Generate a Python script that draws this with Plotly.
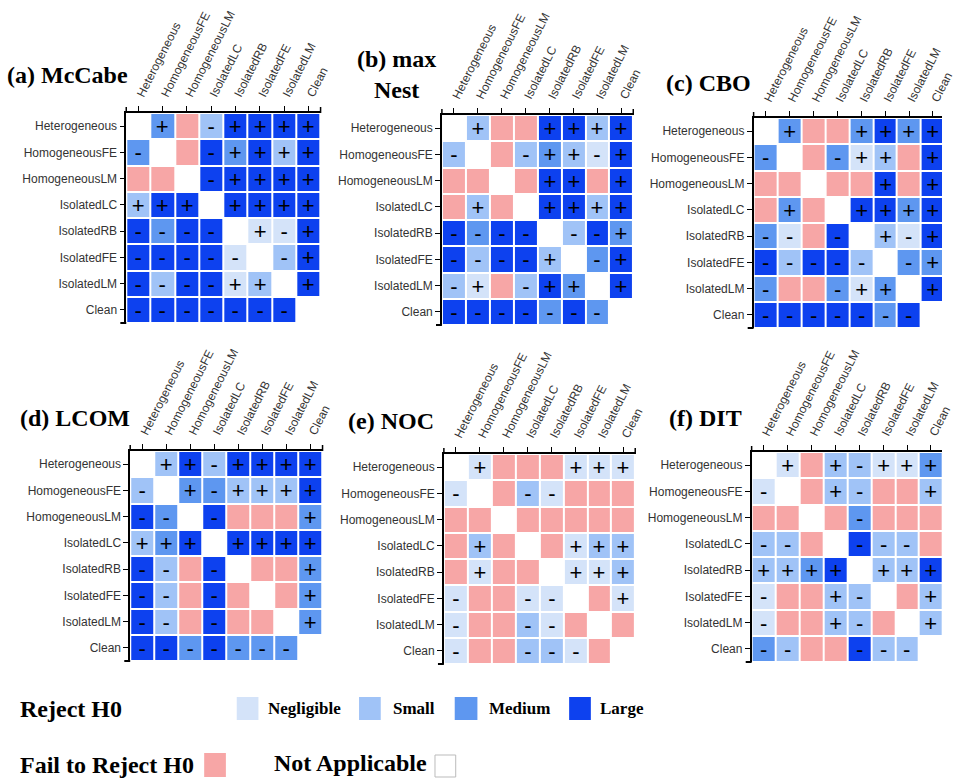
import plotly.graph_objects as go

W, H = 955, 780

groups = ["Heterogeneous", "HomogeneousFE", "HomogeneousLM", "IsolatedLC",
          "IsolatedRB", "IsolatedFE", "IsolatedLM", "Clean"]

# Cell codes: "." not applicable, "F" fail to reject H0,
# otherwise effect size (N/S/M/L) followed by the direction sign.
mccabe = [
    [".",  "M+", "F",  "S-", "L+", "L+", "L+", "L+"],
    ["M-", ".",  "F",  "L-", "M+", "L+", "S+", "L+"],
    ["F",  "F",  ".",  "L-", "L+", "L+", "L+", "L+"],
    ["S+", "L+", "L+", ".",  "L+", "L+", "L+", "L+"],
    ["L-", "M-", "L-", "L-", ".",  "N+", "N-", "L+"],
    ["L-", "L-", "L-", "L-", "N-", ".",  "S-", "L+"],
    ["L-", "S-", "L-", "L-", "N+", "S+", ".",  "L+"],
    ["L-", "L-", "L-", "L-", "L-", "L-", "L-", "."],
]
maxnest = [
    [".",  "S+", "F",  "F",  "L+", "L+", "S+", "L+"],
    ["S-", ".",  "F",  "S-", "M+", "S+", "N-", "L+"],
    ["F",  "F",  ".",  "F",  "L+", "L+", "F",  "L+"],
    ["F",  "S+", "F",  ".",  "L+", "L+", "S+", "L+"],
    ["L-", "M-", "L-", "L-", ".",  "S-", "L-", "M+"],
    ["L-", "S-", "L-", "L-", "S+", ".",  "M-", "L+"],
    ["S-", "N+", "F",  "S-", "L+", "M+", ".",  "L+"],
    ["L-", "L-", "L-", "L-", "M-", "L-", "M-", "."],
]
cbo = [
    [".",  "M+", "F",  "F",  "M+", "L+", "M+", "L+"],
    ["M-", ".",  "F",  "M-", "N+", "S+", "F",  "L+"],
    ["F",  "F",  ".",  "F",  "F",  "L+", "F",  "L+"],
    ["F",  "M+", "F",  ".",  "L+", "L+", "M+", "L+"],
    ["M-", "N-", "F",  "L-", ".",  "S+", "N-", "L+"],
    ["L-", "S-", "L-", "L-", "S-", ".",  "M-", "M+"],
    ["M-", "F",  "F",  "M-", "N+", "M+", ".",  "L+"],
    ["L-", "L-", "L-", "L-", "L-", "M-", "L-", "."],
]
lcom = [
    [".",  "S+", "L+", "S-", "L+", "L+", "L+", "L+"],
    ["S-", ".",  "M+", "M-", "S+", "S+", "S+", "L+"],
    ["L-", "M-", ".",  "L-", "F",  "F",  "F",  "M+"],
    ["S+", "M+", "L+", ".",  "L+", "L+", "L+", "L+"],
    ["L-", "S-", "F",  "L-", ".",  "F",  "F",  "M+"],
    ["L-", "S-", "F",  "L-", "F",  ".",  "F",  "M+"],
    ["L-", "S-", "F",  "L-", "F",  "F",  ".",  "M+"],
    ["L-", "L-", "M-", "L-", "M-", "M-", "M-", "."],
]
noc = [
    [".",  "N+", "F",  "F",  "F",  "N+", "N+", "N+"],
    ["N-", ".",  "F",  "S-", "N-", "F",  "F",  "F"],
    ["F",  "F",  ".",  "F",  "F",  "F",  "F",  "F"],
    ["F",  "S+", "F",  ".",  "F",  "N+", "S+", "S+"],
    ["F",  "N+", "F",  "F",  ".",  "N+", "N+", "S+"],
    ["N-", "F",  "F",  "N-", "N-", ".",  "F",  "N+"],
    ["N-", "F",  "F",  "S-", "N-", "F",  ".",  "F"],
    ["N-", "F",  "F",  "S-", "S-", "N-", "F",  "."],
]
dit = [
    [".",  "N+", "F",  "S+", "S-", "N+", "N+", "M+"],
    ["N-", ".",  "F",  "S+", "S-", "F",  "F",  "S+"],
    ["F",  "F",  ".",  "F",  "M-", "F",  "F",  "F"],
    ["S-", "S-", "F",  ".",  "L-", "S-", "S-", "F"],
    ["S+", "S+", "M+", "L+", ".",  "S+", "S+", "L+"],
    ["N-", "F",  "F",  "S+", "S-", ".",  "F",  "S+"],
    ["N-", "F",  "F",  "S+", "S-", "F",  ".",  "S+"],
    ["M-", "S-", "F",  "F",  "L-", "S-", "S-", "."],
]

panel_titles = ["(a) McCabe", "(b) max<br>Nest", "(c) CBO",
                "(d) LCOM", "(e) NOC", "(f) DIT"]
panel_data = [mccabe, maxnest, cbo, lcom, noc, dit]

level_index = {".": 0, "F": 1, "N": 2, "S": 3, "M": 4, "L": 5}
level_colors = ["#ffffff", "#f7a6a6", "#d4e3f9", "#a0c3f7", "#5e97f0", "#0d41ef"]

colorscale = []
n = len(level_colors)
for i, c in enumerate(level_colors):
    colorscale.append([i / n, c])
    colorscale.append([(i + 1) / n, c])

# pixel boxes of each grid: (left, right, top, bottom, visible right edge of x range)
boxes = [
    (128, 325, 113, 323, 7.5),
    (448, 642, 115, 325, 7.5),
    (764, 955, 118, 328, 7.38),
    (132, 327, 451, 661, 7.5),
    (450, 644, 454, 664, 7.5),
    (762, 955, 452, 662, 7.46),
]
title_pos = [(68, 75), (402, 74), (718, 83), (76, 418), (396, 421), (715, 418)]

label_font = dict(family="Liberation Sans, Arial, sans-serif", size=12, color="#333333")
serif = "Liberation Serif, Times New Roman, serif"

fig = go.Figure()
shapes = []
annotations = []

for k, (mat, box) in enumerate(zip(panel_data, boxes)):
    left, right, top, bottom, xmax = box
    z = [[level_index[c[0]] for c in row] for row in mat]
    txt = [[c[1] if len(c) > 1 else "" for c in row] for row in mat]
    xa = "x" if k == 0 else f"x{k + 1}"
    ya = "y" if k == 0 else f"y{k + 1}"
    fig.add_trace(go.Heatmap(
        z=z, x=list(range(8)), y=list(range(8)), text=txt,
        texttemplate="%{text}",
        textfont=dict(family="Liberation Sans, Arial, sans-serif", size=22, color="black"),
        colorscale=colorscale, zmin=-0.5, zmax=n - 0.5, showscale=False,
        xgap=2, ygap=2, hoverinfo="skip", xaxis=xa, yaxis=ya,
    ))
    xkey = "xaxis" if k == 0 else f"xaxis{k + 1}"
    ykey = "yaxis" if k == 0 else f"yaxis{k + 1}"
    fig.layout[xkey] = dict(
        domain=[left / W, right / W], range=[-0.5, xmax], anchor=ya, side="top",
        tickvals=list(range(8)), ticktext=groups, tickangle=-63,
        ticks="outside", ticklen=5, tickcolor="black", tickwidth=1,
        showline=True, linecolor="black", linewidth=2, ticklabeloverflow="allow",
        showgrid=False, zeroline=False, tickfont=label_font, fixedrange=True,
    )
    fig.layout[ykey] = dict(
        domain=[1 - bottom / H, 1 - top / H], range=[7.5, -0.5], anchor=xa,
        tickvals=list(range(8)), ticktext=groups,
        ticks="outside", ticklen=5, tickcolor="black", tickwidth=1,
        showline=True, linecolor="black", linewidth=1.5, ticklabeloverflow="allow",
        showgrid=False, zeroline=False, tickfont=label_font, fixedrange=True,
    )
    # outer ticks at the ends of both axis lines
    dxr = f"{xa} domain"
    dyr = f"{ya} domain"
    hgt = (bottom - top)
    wid = (right - left)
    shapes += [
        dict(type="line", xref=dxr, yref=dyr, x0=0, x1=0, y0=1, y1=1 + 6 / hgt,
             line=dict(color="black", width=1.5)),
        dict(type="line", xref=dxr, yref=dyr, x0=0, x1=-6 / wid, y0=0, y1=0,
             line=dict(color="black", width=2)),
    ]
    if xmax >= 7.5:
        shapes.append(dict(type="line", xref=dxr, yref=dyr, x0=1, x1=1, y0=1, y1=1 + 6 / hgt,
                           line=dict(color="black", width=1.5)))
    tx, ty = title_pos[k]
    annotations.append(dict(
        text=f"<b>{panel_titles[k]}</b>", x=tx / W, y=1 - ty / H, xref="paper", yref="paper",
        xanchor="center", yanchor="middle", showarrow=False, align="center",
        font=dict(family=serif, size=24, color="black"),
    ))

# legend drawn underneath the panels
legend_items = [
    ("Negligible", level_colors[2], 240, 262, 697, 720, 270),
    ("Small", level_colors[3], 364, 386, 697, 720, 396),
    ("Medium", level_colors[4], 461, 484, 697, 720, 494),
    ("Large", level_colors[5], 577, 599, 697, 720, 606),
]
for label, col, x0, x1, y0, y1, tx in legend_items:
    shapes.append(dict(type="rect", xref="paper", yref="paper",
                       x0=x0 / W, x1=x1 / W, y0=1 - y1 / H, y1=1 - y0 / H,
                       fillcolor=col, line=dict(width=0)))
    annotations.append(dict(text=f"<b>{label}</b>", x=tx / W, y=1 - 708 / H,
                            xref="paper", yref="paper", xanchor="left", yanchor="middle",
                            showarrow=False, font=dict(family=serif, size=17, color="black")))

shapes.append(dict(type="rect", xref="paper", yref="paper",
                   x0=207 / W, x1=229 / W, y0=1 - 777 / H, y1=1 - 753 / H,
                   fillcolor=level_colors[1], line=dict(width=0)))
shapes.append(dict(type="rect", xref="paper", yref="paper",
                   x0=441 / W, x1=462 / W, y0=1 - 777 / H, y1=1 - 755 / H,
                   fillcolor="white", line=dict(width=1, color="#bbbbbb")))

for label, tx, ty in [("Reject H0", 18, 709), ("Fail to Reject H0", 18, 765),
                      ("Not Applicable", 276, 763)]:
    annotations.append(dict(text=f"<b>{label}</b>", x=tx / W, y=1 - ty / H,
                            xref="paper", yref="paper", xanchor="left", yanchor="middle",
                            showarrow=False, font=dict(family=serif, size=24, color="black")))

fig.update_layout(
    width=W, height=H, margin=dict(l=0, r=0, t=0, b=0),
    paper_bgcolor="white", plot_bgcolor="white",
    shapes=shapes, annotations=annotations, showlegend=False,
)

fig.write_html("out.html")
